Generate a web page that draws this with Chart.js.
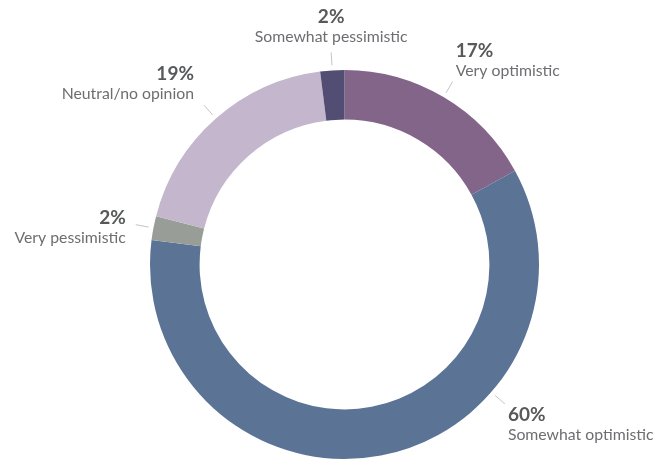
<!DOCTYPE html>
<html>
<head>
<meta charset="utf-8">
<title>Outlook survey</title>
<script src="https://cdn.jsdelivr.net/npm/chart.js@4/dist/chart.umd.min.js"></script>
<style>
  html, body { margin: 0; padding: 0; background: #fff; }
  #wrap { width: 670px; height: 459px; position: relative; }
</style>
</head>
<body>
<div id="wrap"><canvas id="outlookChart"></canvas></div>
<script>
// Survey responses, clockwise from 12 o'clock
const categories = ['Very optimistic', 'Somewhat optimistic', 'Very pessimistic', 'Neutral/no opinion', 'Somewhat pessimistic'];
const shares = [17, 60, 2, 19, 2];
const sliceColors = ['#826589', '#5b7496', '#999d97', '#c3b6cd', '#524d73'];

// Draws the leader lines and the two-line labels outside the ring
const outsideLabels = {
    id: 'outsideLabels',
    afterDatasetsDraw(chart, args, opts) {
        const ctx = chart.ctx;
        const arcs = chart.getDatasetMeta(0).data;
        ctx.save();
        arcs.forEach((arc, i) => {
            const { x, y, outerRadius, startAngle, endAngle } = arc.getProps(['x', 'y', 'outerRadius', 'startAngle', 'endAngle'], true);
            // the big slice gets its label nudged up toward the lower right
            const a = opts.anchor[i] != null
                ? (opts.anchor[i] - 90) * Math.PI / 180
                : (startAngle + endAngle) / 2;
            const cos = Math.cos(a), sin = Math.sin(a);
            const r0 = outerRadius + 5, r1 = outerRadius + 18;
            const ex = x + cos * r1, ey = y + sin * r1;

            ctx.strokeStyle = '#c4c4c4';
            ctx.lineWidth = 1;
            ctx.beginPath();
            ctx.moveTo(x + cos * r0, y + sin * r0);
            ctx.lineTo(ex, ey);
            ctx.stroke();

            let tx, align;
            if (Math.abs(cos) < 0.15) { tx = ex; align = 'center'; }
            else if (cos > 0) { tx = ex + 3; align = 'left'; }
            else { tx = ex - 10; align = 'right'; }

            let pctY;
            if (sin < -0.9) pctY = ey - 29;
            else if (sin < -0.4) pctY = ey - 25;
            else if (sin > 0.4) pctY = ey + 17;
            else pctY = ey - 1;

            ctx.textAlign = align;
            ctx.textBaseline = 'alphabetic';
            ctx.fillStyle = '#58595b';
            ctx.font = 'bold 19px Lato, "Open Sans", sans-serif';
            ctx.fillText(shares[i] + '%', tx, pctY);
            ctx.fillStyle = '#6d6e71';
            ctx.font = '15.8px Lato, "Open Sans", sans-serif';
            ctx.fillText(categories[i], tx, pctY + 19);
        });
        ctx.restore();
    }
};

const ctx = document.getElementById('outlookChart').getContext('2d');
const outlookChart = new Chart(ctx, {
    type: 'doughnut',
    data: {
        labels: categories,
        datasets: [{
            data: shares,
            backgroundColor: sliceColors,
            borderWidth: 0,
            hoverOffset: 0
        }]
    },
    options: {
        responsive: true,
        maintainAspectRatio: false,
        animation: false,
        cutout: '74.5%',
        layout: { padding: { top: 70, left: 19, right: 0, bottom: 0 } },
        plugins: {
            legend: { display: false },
            tooltip: { enabled: false },
            outsideLabels: { anchor: [null, 131, null, null, null] }
        }
    },
    plugins: [outsideLabels]
});
</script>
</body>
</html>
